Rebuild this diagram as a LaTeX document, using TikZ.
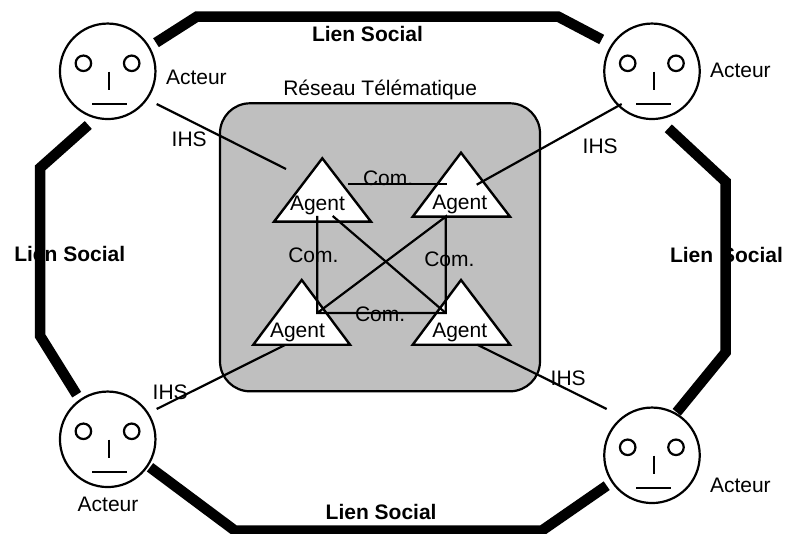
\documentclass[tikz,border=0pt]{standalone}
\usepackage{fontspec}
\setmainfont{Liberation Sans}
\usetikzlibrary{calc}
\definecolor{netgray}{HTML}{BFBFBF}
\tikzset{
  every node/.style={font=\fontsize{21}{24}\selectfont},
  lbl/.style={anchor=base west,inner sep=0pt,outer sep=0pt,yshift=-1.2pt},
  boldlbl/.style={lbl,font=\fontsize{21}{24}\selectfont\bfseries},
  thin line/.style={line width=2.2pt,black},
  lien/.style={line width=10.5pt,black,line join=miter},
  facecircle/.style={circle,draw=black,fill=white,line width=2.2pt,minimum size=95.5pt,inner sep=0pt,outer sep=0pt},
  eye/.style={circle,draw=black,line width=2.2pt,minimum size=15.5pt,inner sep=0pt,outer sep=0pt},
  agenttri/.style={draw=black,fill=white,line width=2.4pt,line join=miter},
  reseau/.style={rounded corners=30pt,draw=black,fill=netgray,line width=2.2pt},
}
\newcommand{\facepic}[3]{%
  \node[facecircle] (#1) at (#2,#3) {};
  \node[eye] (#1el) at ($(#1)+(-24.3,-8)$) {};
  \node[eye] (#1er) at ($(#1)+(24,-8)$) {};
  \draw[thin line] ($(#1)+(1.6,0.4)$) -- ($(#1)+(1.6,18.7)$);
  \draw[thin line] ($(#1)+(-15.7,33)$) -- ($(#1)+(19,33)$);
}
\begin{document}
\begin{tikzpicture}[x=1pt,y=-1pt]
\useasboundingbox (0,0) rectangle (789,534);
% network
\draw[reseau] (220,103.3) rectangle (540,391.3);
% triangles
\coordinate (aTLa) at (322.3,158.3); \coordinate (aTLl) at (274,221.7); \coordinate (aTLr) at (371,221.7);
\coordinate (aTRa) at (461,152.7);   \coordinate (aTRl) at (412.7,216.7); \coordinate (aTRr) at (510,216.7);
\coordinate (aBLa) at (301.7,280);   \coordinate (aBLl) at (253.3,344.7); \coordinate (aBLr) at (350,344.7);
\coordinate (aBRa) at (461,280);     \coordinate (aBRl) at (412.7,344.7); \coordinate (aBRr) at (510,344.7);
\draw[agenttri] (aTLa) -- (aTLl) -- (aTLr) -- cycle;
\draw[agenttri] (aTRa) -- (aTRl) -- (aTRr) -- cycle;
\draw[agenttri] (aBLa) -- (aBLl) -- (aBLr) -- cycle;
\draw[agenttri] (aBRa) -- (aBRl) -- (aBRr) -- cycle;
% faces
\facepic{fTL}{107.7}{71.3}
\facepic{fTR}{652}{71.3}
\facepic{fBL}{107.7}{439.3}
\facepic{fBR}{652}{455.3}
% social links
\coordinate (t1) at (156,42.7); \coordinate (t2) at (196.7,16.7); \coordinate (t3) at (558.3,16.7); \coordinate (t4) at (601.7,39.5);
\coordinate (l1) at (88.3,125); \coordinate (l2) at (40,168); \coordinate (l3) at (40,335.7); \coordinate (l4) at (76.7,394.7);
\coordinate (r1) at (668.3,128.3); \coordinate (r2) at (725.7,181.7); \coordinate (r3) at (725.7,352.3); \coordinate (r4) at (676.7,412.3);
\coordinate (b1) at (150,467.3); \coordinate (b2) at (235,530.7); \coordinate (b3) at (541.7,530.7); \coordinate (b4) at (606.7,485.7);
\draw[lien] (t1) -- (t2) -- (t3) -- (t4);
\draw[lien] (l1) -- (l2) -- (l3) -- (l4);
\draw[lien] (r1) -- (r2) -- (r3) -- (r4);
\draw[lien] (b1) -- (b2) -- (b3) -- (b4);
% IHS links
\coordinate (i1a) at (156.7,104); \coordinate (i1b) at (286,169);
\coordinate (i2a) at (621.7,104); \coordinate (i2b) at (476.7,184.7);
\coordinate (i3a) at (156.7,409); \coordinate (i3b) at (285,345);
\coordinate (i4a) at (606.7,409); \coordinate (i4b) at (477.3,344.7);
\draw[thin line] (i1a) -- (i1b);
\draw[thin line] (i2a) -- (i2b);
\draw[thin line] (i3a) -- (i3b);
\draw[thin line] (i4a) -- (i4b);
% communication links
\coordinate (cTL) at (317.3,216); \coordinate (cTR) at (445.7,216.7);
\coordinate (cBL) at (317.3,313); \coordinate (cBR) at (445.7,313);
\coordinate (cTLd) at (332.7,216); \coordinate (cH1) at (348.3,184.3); \coordinate (cH2) at (446.7,184.3);
\draw[thin line] (cH1) -- (cH2);
\draw[thin line] (cTL) -- (cBL) -- (cBR) -- (cTR) -- (cBL);
\draw[thin line] (cTLd) -- (cBR);
% labels
\node[boldlbl] (ls1) at (312,40.7) {Lien Social};
\node[boldlbl] (ls2) at (14.3,260) {Lien Social};
\node[boldlbl] (ls3) at (670,261.7) {Lien\hspace{2pt} Social};
\node[boldlbl] (ls4) at (325.7,518) {Lien Social};
\node[lbl] (ac1) at (166,83.3) {Acteur};
\node[lbl] (ac2) at (710,76) {Acteur};
\node[lbl] (ac3) at (77.7,510) {Acteur};
\node[lbl] (ac4) at (710,491.3) {Acteur};
\node[lbl] (rt) at (283.3,94) {Réseau Télématique};
\node[lbl] (ih1) at (171.7,145) {IHS};
\node[lbl] (ih2) at (582.7,152.7) {IHS};
\node[lbl] (ih3) at (152.7,398) {IHS};
\node[lbl] (ih4) at (550.7,384.7) {IHS};
\node[lbl] (ag1) at (290,209) {Agent};
\node[lbl] (ag2) at (432.3,208.3) {Agent};
\node[lbl] (ag3) at (270,336.7) {Agent};
\node[lbl] (ag4) at (432.3,336.7) {Agent};
\node[lbl] (co1) at (363,184.3) {Com.};
\node[lbl] (co2) at (288.3,261.7) {Com.};
\node[lbl] (co3) at (424.3,265) {Com.};
\node[lbl] (co4) at (355,320.7) {Com.};
\end{tikzpicture}
\end{document}
